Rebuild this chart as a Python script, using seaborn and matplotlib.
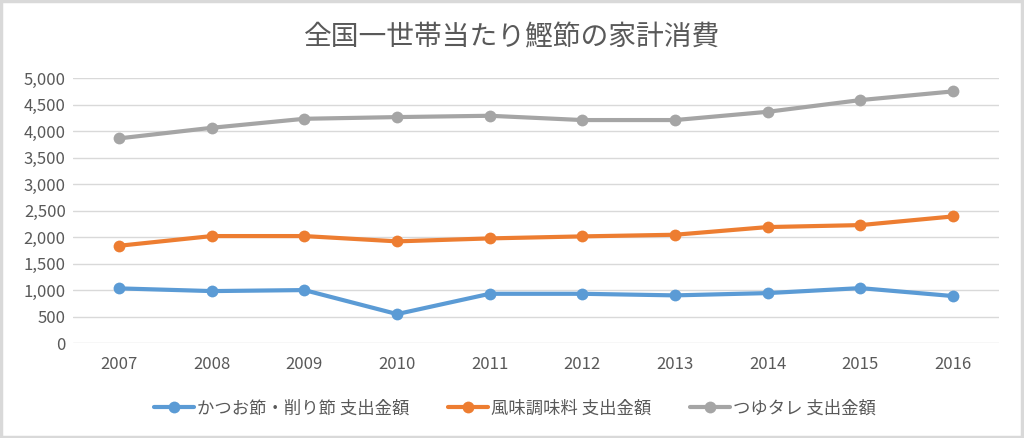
import pandas as pd
import matplotlib.pyplot as plt
import matplotlib.ticker as mticker
from matplotlib.patches import Rectangle
import seaborn as sns

years = [2007, 2008, 2009, 2010, 2011, 2012, 2013, 2014, 2015, 2016]
katsuobushi = [1038, 987, 1006, 553, 936, 936, 906, 949, 1043, 893]
fumi = [1842, 2025, 2025, 1925, 1981, 2019, 2050, 2195, 2232, 2396]
tsuyu = [3868, 4068, 4238, 4270, 4295, 4214, 4214, 4370, 4591, 4755]

series_names = ['かつお節・削り節 支出金額', '風味調味料 支出金額', 'つゆタレ 支出金額']
colors = ['#5B9BD5', '#ED7D31', '#A5A5A5']

df = pd.DataFrame({
    'year': years * 3,
    'value': katsuobushi + fumi + tsuyu,
    'series': [series_names[0]] * 10 + [series_names[1]] * 10 + [series_names[2]] * 10,
})

sns.set_theme(style='white')
plt.rcParams['font.family'] = ['Noto Sans CJK JP', 'DejaVu Sans']

fig = plt.figure(figsize=(10.24, 4.38), dpi=100)
ax = fig.add_axes([0.071, 0.216, 0.905, 0.605])

sns.lineplot(data=df, x='year', y='value', hue='series', palette=colors,
             marker='o', markersize=8.5, markeredgewidth=0, linewidth=3, ax=ax)

ax.set_xlim(2006.5, 2016.5)
ax.set_ylim(0, 5000)
ax.set_xticks(years)
ax.set_yticks(range(0, 5001, 500))
ax.yaxis.set_major_formatter(mticker.FuncFormatter(lambda v, p: f'{int(v):,}'))
ax.grid(axis='y', color='#D9D9D9', linewidth=1)
ax.set_axisbelow(True)
for s in ax.spines.values():
    s.set_visible(False)
ax.tick_params(axis='both', length=0, labelsize=12, colors='#595959')
ax.tick_params(axis='x', pad=9)
ax.tick_params(axis='y', pad=5)
ax.set_xlabel('')
ax.set_ylabel('')

fig.text(0.5, 0.915, '全国一世帯当たり鰹節の家計消費', ha='center', va='center',
         fontsize=20, color='#595959')

handles, labels = ax.get_legend_handles_labels()
ax.legend(handles, labels, loc='center', bbox_to_anchor=(0.503, 0.068),
          bbox_transform=fig.transFigure, ncol=3, frameon=False, fontsize=12.5,
          labelcolor='#595959', handlelength=2.3, handletextpad=0.2, columnspacing=2.2)

fig.patches.append(Rectangle((0.001, 0.002), 0.997, 0.995, transform=fig.transFigure,
                             fill=False, edgecolor='#D9D9D9', linewidth=2.5))

fig.savefig('out.png', dpi=100)
